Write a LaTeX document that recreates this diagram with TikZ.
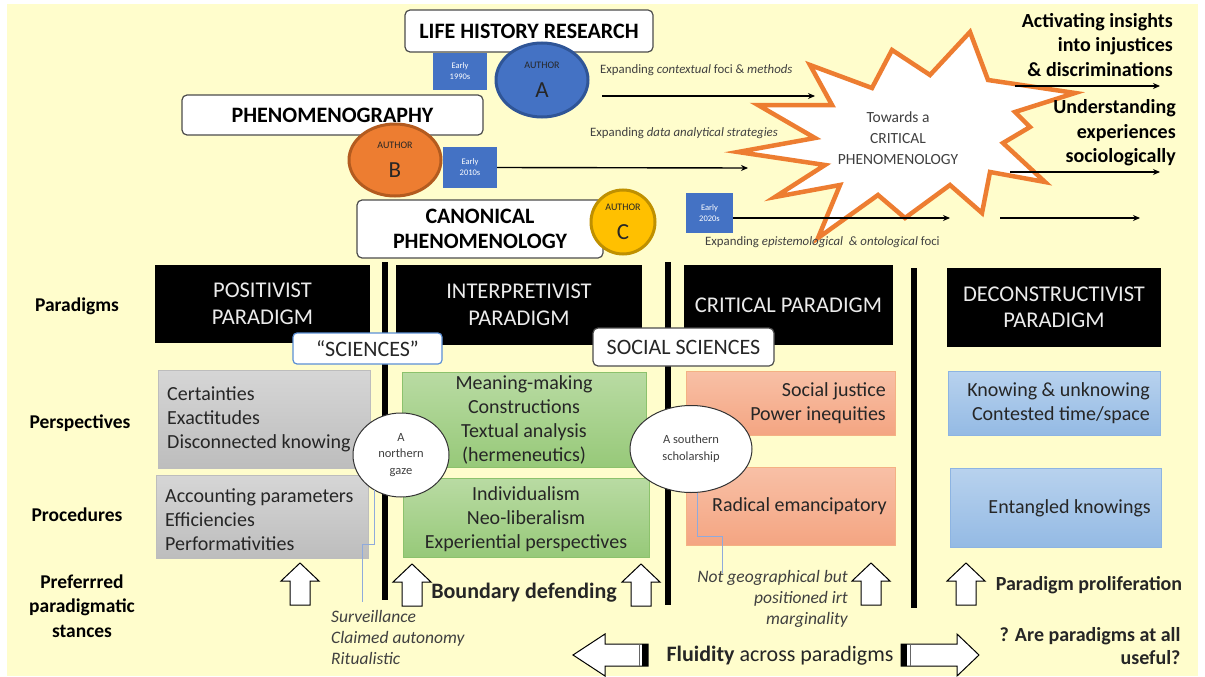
\documentclass[tikz,border=0pt]{standalone}
\usepackage{fontspec}
\setmainfont{Carlito}
\usetikzlibrary{shapes.geometric,arrows.meta}
\definecolor{bgy}{HTML}{FFFDCC}
\definecolor{eblue}{HTML}{4472C4}
\definecolor{ablue}{HTML}{4472C4}
\definecolor{ablued}{HTML}{2F5597}
\definecolor{aor}{HTML}{ED7D31}
\definecolor{aord}{HTML}{B35B1F}
\definecolor{agold}{HTML}{FFC000}
\definecolor{agoldd}{HTML}{BF9000}
\definecolor{txt}{HTML}{262626}
\definecolor{gtxt}{HTML}{404040}
\definecolor{starc}{HTML}{ED7D31}
\definecolor{callb}{HTML}{8FAADC}
\definecolor{sciblue}{HTML}{5B8FD5}
\definecolor{grayt}{HTML}{D6D6D6}
\definecolor{grayb}{HTML}{BDBDBD}
\definecolor{greent}{HTML}{B9DBA3}
\definecolor{greenb}{HTML}{97C979}
\definecolor{greend}{HTML}{8CC26C}
\definecolor{oranget}{HTML}{F8C0A6}
\definecolor{orangeb}{HTML}{F4A582}
\definecolor{oranged}{HTML}{F4B183}
\definecolor{bluet}{HTML}{B8D2EE}
\definecolor{blueb}{HTML}{94BAE4}
\definecolor{blued}{HTML}{8DB4E2}
\begin{document}
\begin{tikzpicture}[x=1pt,y=-1pt,
  tbox/.style={draw=black!70, line width=1.2pt, fill=white, rounded corners=5pt, text=black,
    font=\bfseries\fontsize{22}{25.5}\selectfont, align=center, inner sep=0pt},
  early/.style={fill=eblue, text=white, font=\fontsize{8.5}{11}\selectfont, align=center, inner sep=0pt},
  auth/.style={ellipse, line width=3pt, inner sep=0pt, align=center, text=txt},
  pbox/.style={fill=black, text=white!92!black, font=\fontsize{22.5}{26.5}\selectfont, align=center, inner sep=0pt},
  lbl/.style={font=\bfseries\fontsize{19.5}{24.5}\selectfont, align=center, text=black},
  btxt/.style={font=\fontsize{20}{24}\selectfont, text=txt, inner sep=0pt},
  gbox/.style={top color=grayt, bottom color=grayb, draw=grayb, inner sep=0pt},
  grbox/.style={top color=greent, bottom color=greenb, draw=greend, inner sep=0pt},
  orbox/.style={top color=oranget, bottom color=orangeb, draw=oranged, inner sep=0pt},
  blbox/.style={top color=bluet, bottom color=blueb, draw=blued, inner sep=0pt},
  vline/.style={line width=5.5pt},
  small/.style={font=\fontsize{12.8}{14}\selectfont, text=gtxt, inner sep=0pt},
  arr/.style={line width=1.4pt, -{Stealth[length=7pt,width=6pt]}},
  side/.style={font=\bfseries\fontsize{20}{24.5}\selectfont, align=right, text=black, inner sep=0pt},
  gaze/.style={ellipse, draw=black!80, line width=1pt, fill=white, inner sep=0pt, align=center,
    font=\fontsize{12.5}{16.5}\selectfont, text=gtxt},
  callout/.style={draw=callb, line width=0.9pt},
  itx/.style={font=\itshape\fontsize{17.5}{21}\selectfont, text=gtxt, inner sep=0pt},
  uparr/.pic={\draw[fill=white, line width=1pt, line join=miter]
     (-10,0) -- (-10,-24) -- (-19,-24) -- (0,-42) -- (19,-24) -- (10,-24) -- (10,0) -- cycle;}
]
\useasboundingbox (0,0) rectangle (1205,677);
\fill[white] (0,0) rectangle (1205,677);
\fill[bgy] (7,4) rectangle (1198,676);

% ---------- top: research traditions ----------
\node[tbox, minimum width=248, minimum height=42] (lhr) at (529,31) {LIFE HISTORY RESEARCH};
\node[tbox, minimum width=301, minimum height=40] (phg) at (332.5,115) {PHENOMENOGRAPHY};
\node[tbox, minimum width=246, minimum height=58] (cph) at (480,229) {CANONICAL\\PHENOMENOLOGY};

\node[early, minimum width=54, minimum height=37] (e90) at (460,71.5) {Early\\1990s};
\node[early, minimum width=54, minimum height=41] (e10) at (470,167.5) {Early\\2010s};
\node[early, minimum width=47, minimum height=40] (e20) at (709.5,213) {Early\\2020s};

\node[auth, fill=ablue, draw=ablued, minimum width=92, minimum height=74] (aa) at (542,80)
  {\fontsize{10}{12}\selectfont AUTHOR\\[13pt]{\fontsize{23}{23}\selectfont A}};
\node[auth, fill=aor, draw=aord, minimum width=92, minimum height=72] (ab) at (395,160)
  {\fontsize{10}{12}\selectfont AUTHOR\\[13pt]{\fontsize{23}{23}\selectfont B}};
\node[auth, fill=agold, draw=agoldd, minimum width=64, minimum height=64] (ac) at (623,222)
  {\fontsize{10}{12}\selectfont AUTHOR\\[13pt]{\fontsize{23}{23}\selectfont C}};

% ---------- star ----------
\draw[starc, line width=4.5pt, line join=miter, miter limit=20, fill=white]
 (970,32) -- (988,80) -- (1075,93) -- (1015,112) -- (1030,127) -- (1003,143) -- (1045,182)
 -- (990,172) -- (982,213) -- (950,185) -- (905,218) -- (878,195) -- (818,238) -- (840,185)
 -- (775,197) -- (825,165) -- (738,152) -- (815,138) -- (758,105) -- (832,105) -- (810,65)
 -- (872,88) -- (892,50) -- (930,75) -- cycle;
\node[font=\fontsize{15.5}{21}\selectfont, text=gtxt, align=center] (crit) at (898,138)
  {Towards a\\CRITICAL\\PHENOMENOLOGY};

% ---------- expansion arrows ----------
\coordinate (a1s) at (602,96);  \coordinate (a1e) at (815,96);
\coordinate (a2e) at (748,168);
\coordinate (a3e) at (950,218);
\coordinate (a4s) at (1000,218); \coordinate (a4e) at (1140,218);
\coordinate (r1s) at (1015,86);  \coordinate (r1e) at (1160,86);
\coordinate (r2s) at (1010,172); \coordinate (r2e) at (1160,172);
\draw[arr] (a1s) -- (a1e);
\draw[arr] (e10.east) -- (a2e);
\draw[arr] (e20.east |- a3e) -- (a3e);
\draw[arr] (a4s) -- (a4e);
\draw[arr] (r1s) -- (r1e);
\draw[arr] (r2s) -- (r2e);

\node[small, anchor=west] (x1) at (600,70) {Expanding \textit{contextual} foci \& \textit{methods}};
\node[small, anchor=west] (x2) at (590,133) {Expanding \textit{data analytical strategies}};
\node[small, anchor=west] (x3) at (705,242) {Expanding \textit{epistemological \ \& ontological} foci};

\node[side, anchor=east] (act) at (1173,45) {Activating insights\\into injustices\\\& discriminations};
\node[side, anchor=east] (und) at (1176,133) {Understanding\\experiences\\sociologically};

% ---------- paradigms ----------
\node[pbox, minimum width=215, minimum height=78] (pos) at (262.5,304) {POSITIVIST\\PARADIGM};
\node[pbox, minimum width=246, minimum height=80] (int) at (519,305) {INTERPRETIVIST\\PARADIGM};
\node[pbox, minimum width=209, minimum height=80] (cri) at (788.5,305) {CRITICAL PARADIGM};
\node[pbox, minimum width=214, minimum height=79] (dec) at (1054,307.5) {DECONSTRUCTIVIST\\PARADIGM};

\draw[vline] (385,262) -- (385,600);
\draw[vline] (668,262) -- (668,605);
\draw[vline] (914,268) -- (914,608);

\node[draw=sciblue, line width=1.2pt, fill=white, rounded corners=4pt, minimum width=149, minimum height=31,
  inner sep=0pt, font=\fontsize{22}{24}\selectfont, text=txt] (sci) at (367.5,348.5) {“SCIENCES”};
\node[draw=black!70, line width=1.2pt, fill=white, rounded corners=5pt, minimum width=181, minimum height=38,
  inner sep=0pt, font=\fontsize{22}{24}\selectfont, text=txt] (soc) at (683.5,347) {SOCIAL SCIENCES};

% row labels
\node[lbl] (lpar) at (77,306) {Paradigms};
\node[lbl] (lper) at (80,423) {Perspectives};
\node[lbl] (lpro) at (77,515) {Procedures};
\node[lbl] (lpre) at (82,606) {Preferrred\\paradigmatic\\stances};

% perspective / procedure boxes
\node[gbox, minimum width=212, minimum height=98] (g1) at (264,419) {};
\node[gbox, minimum width=212, minimum height=83] (g2) at (262,516.5) {};
\node[grbox, minimum width=244, minimum height=95] (n1) at (524,419.5) {};
\node[grbox, minimum width=246, minimum height=79] (n2) at (526,517.5) {};
\node[orbox, minimum width=209, minimum height=64] (o1) at (790.5,403) {};
\node[orbox, minimum width=209, minimum height=78] (o2) at (790.5,506) {};
\node[blbox, minimum width=212, minimum height=64] (b1) at (1054,403) {};
\node[blbox, minimum width=211, minimum height=79] (b2) at (1055.5,507.5) {};

\node[btxt, align=left, anchor=west] (g1t) at (167,419) {Certainties\\Exactitudes\\Disconnected knowing};
\node[btxt, align=left, anchor=west] (g2t) at (165,520) {Accounting parameters\\Efficiencies\\Performativities};
\node[btxt, align=center] (n1t) at (524,420) {Meaning-making\\Constructions\\Textual analysis\\(hermeneutics)};
\node[btxt, align=center] (n2t) at (526,519) {Individualism\\Neo-liberalism\\Experiential perspectives};
\node[btxt, align=right, anchor=east] (o1t) at (886,403) {Social justice\\Power inequities};
\node[btxt, align=right, anchor=east] (o2t) at (887,506) {Radical emancipatory};
\node[btxt, align=right, anchor=east] (b1t) at (1150,403) {Knowing \& unknowing\\Contested time/space};
\node[btxt, align=right, anchor=east] (b2t) at (1151,508) {Entangled knowings};

% gaze ellipses
\node[gaze, minimum width=96, minimum height=84] (ng) at (401,455) {A\\northern\\gaze};
\node[gaze, minimum width=122, minimum height=87, font=\fontsize{12.5}{17}\selectfont] (ss) at (691,449) {A southern\\scholarship};

\coordinate (nb) at (362,602);
\coordinate (sb) at (722,573);
\draw[callout] (ng.233) -- ++(0,54) -| (nb);
\draw[callout] (ss.278) -- ++(0,44) -| (sb);

% up arrows
\pic (u1) at (300,605) {uparr};
\pic (u2) at (412,606) {uparr};
\pic (u3) at (641,606) {uparr};
\pic (u4) at (871,605) {uparr};
\pic (u5) at (966,605) {uparr};

\node[font=\bfseries\fontsize{22}{24}\selectfont, text=txt] (bd) at (524,593) {Boundary defending};
\node[itx, align=left, anchor=west] (surv) at (331,637) {Surveillance\\Claimed autonomy\\Ritualistic};
\node[itx, align=right, anchor=east] (notg) at (848,599) {Not geographical but\\positioned irt\\marginality};
\node[font=\bfseries\fontsize{20}{24}\selectfont, text=txt] (pp) at (1089,585) {Paradigm proliferation};
\node[font=\bfseries\fontsize{20}{23}\selectfont, text=txt, align=right, anchor=east] (use) at (1184,646)
  {? Are paradigms at all\\useful?};

% fluidity arrows
\draw[fill=white, line width=1pt, line join=miter]
  (648,644) -- (605,644) -- (605,634) -- (573,655) -- (605,676) -- (605,666) -- (648,666) -- cycle;
\fill[black] (642,644) rectangle (648,666);
\draw[black!60, line width=0.8pt] (639,644) -- (639,666);
\draw[fill=white, line width=1pt, line join=miter]
  (901,644) -- (957,644) -- (957,634) -- (979,655) -- (957,676) -- (957,666) -- (901,666) -- cycle;
\fill[black] (901,644) rectangle (907,666);
\draw[black!60, line width=0.8pt] (910,644) -- (910,666);
\node[font=\fontsize{22}{24}\selectfont, text=txt] (flu) at (780,656) {\textbf{Fluidity} across paradigms};
\end{tikzpicture}
\end{document}
